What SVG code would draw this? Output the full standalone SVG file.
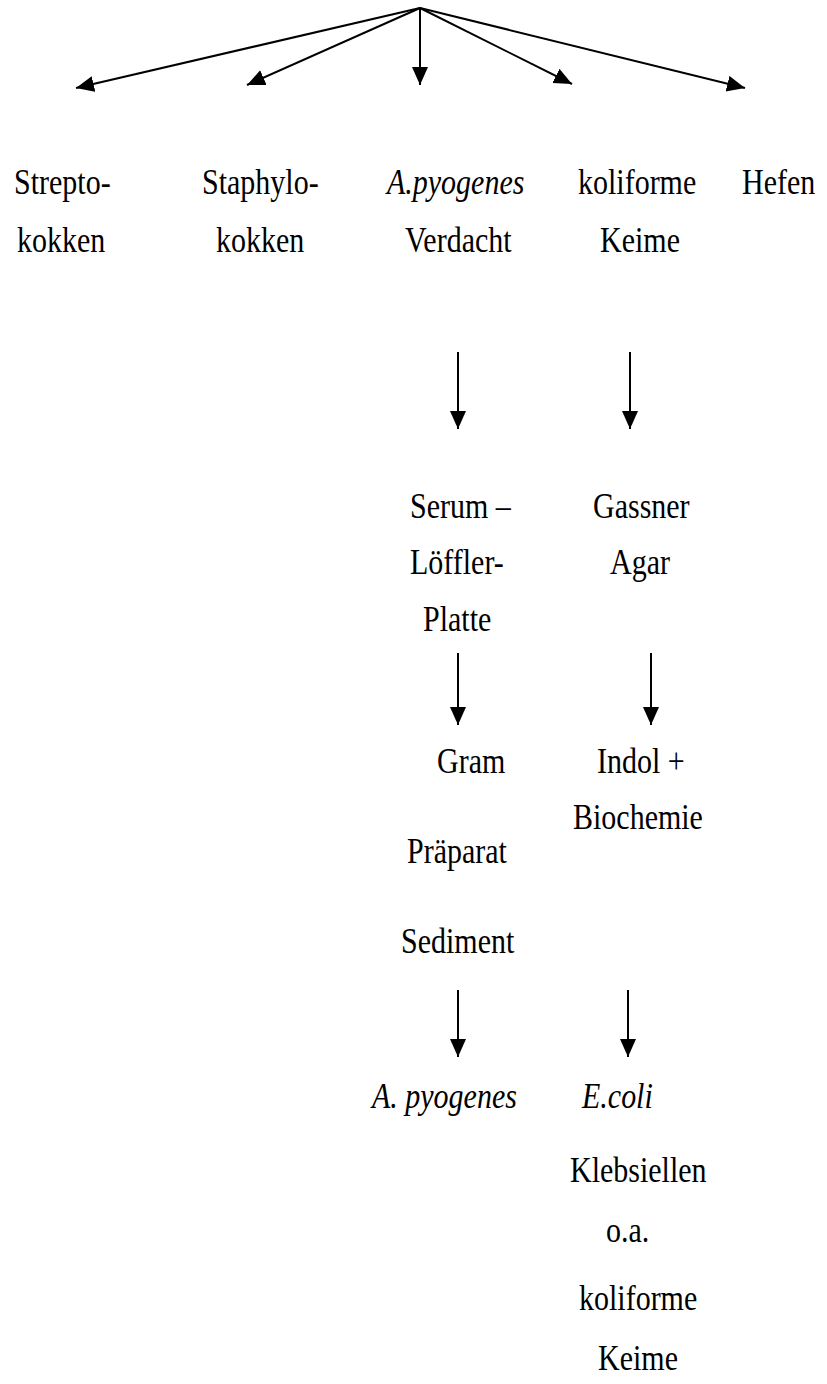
<svg xmlns="http://www.w3.org/2000/svg" width="827" height="1384" viewBox="0 0 827 1384">
  <style>
    .c { stroke: #000; stroke-width: 2; fill: none; }
    .lbl { font-family: 'Liberation Serif', 'Times New Roman', serif; font-size: 30px; fill: #000; }
    .i { font-style: italic; }
  </style>
  <defs>
    <marker id="head" markerUnits="userSpaceOnUse" markerWidth="20" markerHeight="18" refX="18" refY="8" orient="auto">
      <path d="M0,0 L18,8 L0,16 z" fill="#000"/>
    </marker>
  </defs>
  <rect width="827" height="1384" fill="#fff"/>

  <!-- connectors -->
  <g id="connectors" class="c" marker-end="url(#head)">
    <line x1="420" y1="8" x2="76" y2="88"/>
    <line x1="420" y1="8" x2="247" y2="85"/>
    <line x1="420" y1="8" x2="420" y2="85"/>
    <line x1="420" y1="8" x2="572" y2="84"/>
    <line x1="420" y1="8" x2="745" y2="88"/>
    <line x1="458" y1="352" x2="458" y2="429"/>
    <line x1="630" y1="352" x2="630" y2="429"/>
    <line x1="458" y1="653" x2="458" y2="725"/>
    <line x1="651" y1="653" x2="651" y2="725"/>
    <line x1="458" y1="990" x2="458" y2="1057"/>
    <line x1="628" y1="990" x2="628" y2="1057"/>
  </g>

  <!-- labels, set slightly tall (scaled 1.2 vertically about the baseline) -->
  <g class="lbl">
    <g id="streptokokken">
      <text transform="translate(14 194) scale(1 1.2)">Strepto-</text>
      <text transform="translate(17 252) scale(1 1.2)">kokken</text>
    </g>
    <g id="staphylokokken">
      <text transform="translate(202 194) scale(1 1.2)">Staphylo-</text>
      <text transform="translate(216 252) scale(1 1.2)">kokken</text>
    </g>
    <g id="pyogenes-verdacht">
      <text transform="translate(387 194) scale(1 1.2)" class="i">A.pyogenes</text>
      <text transform="translate(405 252) scale(1 1.2)">Verdacht</text>
    </g>
    <g id="koliforme">
      <text transform="translate(578 194) scale(1 1.2)">koliforme</text>
      <text transform="translate(600 252) scale(1 1.2)">Keime</text>
    </g>
    <g id="hefen">
      <text transform="translate(742 194) scale(1 1.2)">Hefen</text>
    </g>

    <g id="serum-loeffler">
      <text transform="translate(410 518) scale(1 1.2)">Serum –</text>
      <text transform="translate(410 574) scale(1 1.2)">Löffler-</text>
      <text transform="translate(423 631) scale(1 1.2)">Platte</text>
    </g>
    <g id="gram">
      <text transform="translate(437 773) scale(1 1.2)">Gram</text>
      <text transform="translate(407 863) scale(1 1.2)">Präparat</text>
      <text transform="translate(401 953) scale(1 1.2)">Sediment</text>
    </g>
    <g id="a-pyogenes">
      <text transform="translate(372 1108) scale(1 1.2)" class="i">A. pyogenes</text>
    </g>

    <g id="gassner">
      <text transform="translate(593 518) scale(1 1.2)">Gassner</text>
      <text transform="translate(610 574) scale(1 1.2)">Agar</text>
    </g>
    <g id="indol">
      <text transform="translate(597 773) scale(1 1.2)">Indol +</text>
      <text transform="translate(573 829) scale(1 1.2)">Biochemie</text>
    </g>
    <g id="ecoli">
      <text transform="translate(582 1108) scale(1 1.2)" class="i">E.coli</text>
      <text transform="translate(570 1182) scale(1 1.2)">Klebsiellen</text>
      <text transform="translate(606 1242) scale(1 1.2)">o.a.</text>
      <text transform="translate(579 1310) scale(1 1.2)">koliforme</text>
      <text transform="translate(598 1370) scale(1 1.2)">Keime</text>
    </g>
  </g>
</svg>
